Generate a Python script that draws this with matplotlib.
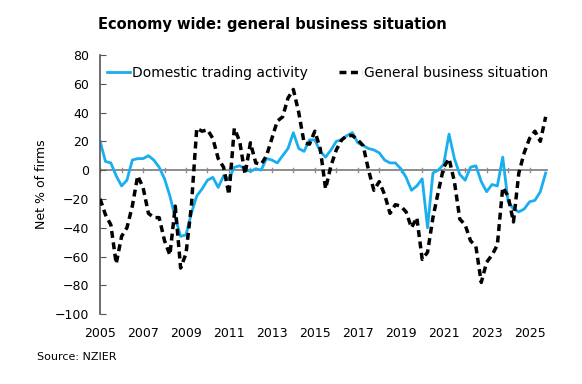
import matplotlib
matplotlib.use("Agg")
import matplotlib.pyplot as plt
import numpy as np

# NZIER QSBO, quarterly, 2005Q1 - 2025Q4 (net % of firms)
start_year = 2005
domestic = [20, 6, 5, -4, -11, -7, 7, 8, 8, 10, 7, 2, -6, -18, -33, -46,
            -45, -30, -18, -13, -7, -5, -12, -4, -6, 2, 3, 1, -1, 1, 0, 8,
            7, 5, 10, 15, 26, 15, 13, 21, 21, 13, 9, 14, 20, 21, 24, 26,
            19, 17, 15, 14, 12, 7, 5, 5, 1, -5, -14, -11, -6, -40, -2, 0,
            4, 25, 8, -3, -7, 2, 3, -8, -15, -10, -11, 9, -22, -27, -29, -27,
            -22, -21, -15, -2]
general = [-20, -31, -38, -65, -46, -40, -25, -4, -12, -30, -33, -33, -49, -59, -25, -68,
           -58, -25, 29, 27, 28, 22, 8, 2, -17, 29, 20, -3, 19, 5, 4, 10,
           22, 34, 37, 50, 56, 40, 19, 18, 27, 15, -13, 3, 14, 21, 24, 24,
           21, 17, 0, -14, -8, -17, -30, -24, -25, -29, -40, -33, -62, -57, -33, -15,
           2, 8, -8, -34, -38, -49, -53, -78, -64, -59, -52, -12, -18, -36, -2, 12,
           22, 27, 20, 37]
year_labels = list(range(2005, 2026, 2))
y_ticks = list(range(-100, 81, 20))

t = start_year + np.arange(len(domestic)) / 4

fig = plt.figure(figsize=(5.82, 3.84), dpi=100)
ax = fig.add_axes([0.172, 0.182, 0.770, 0.675])

ax.axhline(0, color="#8c8c8c", lw=1.4, zorder=1)
# yearly tick marks crossing the zero line
for yr in range(2005, 2027):
    ax.plot([yr, yr], [-1.6, 1.6], color="#8c8c8c", lw=1.0, zorder=1)

ax.plot(t, domestic, color="#19aeef", lw=2.0, zorder=2,
        label="Domestic trading activity")
ax.plot(t, general, color="black", lw=2.5, ls=(0, (2.0, 1.3)), zorder=3,
        label="General business situation")

ax.set_xlim(2005, t[-1] + 0.12)
ax.set_ylim(-100, 80)
ax.set_yticks(y_ticks)
ax.set_xticks(year_labels)
ax.tick_params(axis="y", direction="in", length=4, color="#555555",
               labelsize=9, pad=8)
ax.tick_params(axis="x", length=0, labelsize=9, pad=9)
for s in ["top", "right", "bottom"]:
    ax.spines[s].set_visible(False)
ax.spines["left"].set_color("#555555")
ax.spines["left"].set_linewidth(1.2)

ax.set_ylabel("Net % of firms", fontsize=9, labelpad=5)
ax.legend(loc="upper left", ncol=2, frameon=False, fontsize=10,
          handlelength=1.7, handletextpad=0.15, columnspacing=2.2,
          bbox_to_anchor=(0.005, 0.975), borderaxespad=0.0, borderpad=0.3)

fig.text(0.468, 0.935, "Economy wide: general business situation",
         ha="center", va="center", fontsize=10.5, fontweight="bold")
fig.text(0.064, 0.07, "Source: NZIER", fontsize=8, va="center")

plt.savefig("out.png", dpi=100)
